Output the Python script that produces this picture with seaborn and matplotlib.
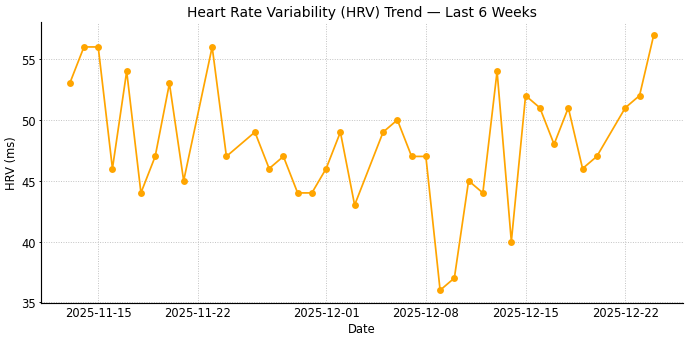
import pandas as pd
import matplotlib
matplotlib.use("Agg")
import matplotlib.pyplot as plt
import matplotlib.dates as mdates
import seaborn as sns

dates = [
    "2025-11-13", "2025-11-14", "2025-11-15", "2025-11-16", "2025-11-17",
    "2025-11-18", "2025-11-19", "2025-11-20", "2025-11-21", "2025-11-23",
    "2025-11-24", "2025-11-26", "2025-11-27", "2025-11-28", "2025-11-29",
    "2025-11-30", "2025-12-01", "2025-12-02", "2025-12-03", "2025-12-05",
    "2025-12-06", "2025-12-07", "2025-12-08", "2025-12-09", "2025-12-10",
    "2025-12-11", "2025-12-12", "2025-12-13", "2025-12-14", "2025-12-15",
    "2025-12-16", "2025-12-17", "2025-12-18", "2025-12-19", "2025-12-20",
    "2025-12-22", "2025-12-23", "2025-12-24",
]
hrv_ms = [
    53, 56, 56, 46, 54,
    44, 47, 53, 45, 56,
    47, 49, 46, 47, 44,
    44, 46, 49, 43, 49,
    50, 47, 47, 36, 37,
    45, 44, 54, 40, 52,
    51, 48, 51, 46, 47,
    51, 52, 57,
]
tick_dates = ["2025-11-15", "2025-11-22", "2025-12-01", "2025-12-08",
              "2025-12-15", "2025-12-22"]

df = pd.DataFrame({"Date": pd.to_datetime(dates), "HRV": hrv_ms})

sns.set_style("white")
plt.rcParams["font.family"] = ["DejaVu Sans"]
plt.rcParams["text.color"] = "black"
plt.rcParams["axes.labelcolor"] = "black"
plt.rcParams["xtick.color"] = "black"
plt.rcParams["ytick.color"] = "black"

DPI = 83
W, H = 690, 341
fig, ax = plt.subplots(figsize=(W / DPI, H / DPI), dpi=DPI)
fig.subplots_adjust(left=40.5 / W, right=683 / W, top=1 - 23 / H, bottom=1 - 304 / H)

sns.lineplot(data=df, x="Date", y="HRV", color="#FFA500", marker="o",
             markersize=6, markeredgewidth=0, linewidth=1.5, ax=ax)

ax.set_xticks(pd.to_datetime(tick_dates))
ax.xaxis.set_major_formatter(mdates.DateFormatter("%Y-%m-%d"))
ax.set_title("Heart Rate Variability (HRV) Trend — Last 6 Weeks", fontsize=12, pad=5)
ax.set_xlabel("Date", fontsize=10, labelpad=2)
ax.set_ylabel("HRV (ms)", fontsize=10, labelpad=3)
ax.tick_params(axis="y", labelsize=10, length=2, width=0.8, pad=2,
               direction="out", left=True)
ax.tick_params(axis="x", labelsize=10, length=0, pad=3, bottom=False)
ax.grid(True, linestyle=":", color="#bdbdbd", linewidth=0.8)
for side in ("top", "right"):
    ax.spines[side].set_visible(False)
for side in ("left", "bottom"):
    ax.spines[side].set_color("black")
    ax.spines[side].set_linewidth(1.0)

fig.savefig("out.png", dpi=DPI)
